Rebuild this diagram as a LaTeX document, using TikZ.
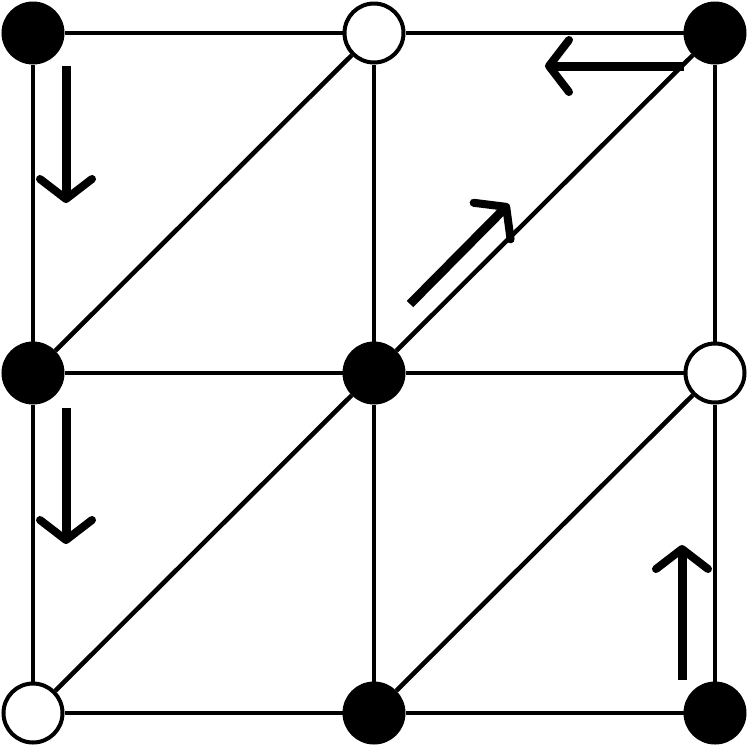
\documentclass[tikz,border=0pt]{standalone}
\usetikzlibrary{arrows.meta}
\begin{document}
\begin{tikzpicture}[x=1pt,y=-1pt,
  vtx/.style={circle,draw=black,line width=4pt,minimum size=59pt,inner sep=0pt},
  full/.style={vtx,fill=black},
  hollow/.style={vtx,fill=white},
  edge/.style={line width=4.5pt},
  flow/.style={line width=9pt,-{Straight Barb[length=20pt,width=52pt,line width=8pt,round]}}]
\useasboundingbox (0,0) rectangle (748,748);
\node[full]   (a1) at (33,33) {};
\node[hollow] (a2) at (374,33) {};
\node[full]   (a3) at (715,33) {};
\node[full]   (b1) at (33,373) {};
\node[full]   (b2) at (374,373) {};
\node[hollow] (b3) at (715,373) {};
\node[hollow] (c1) at (33,713) {};
\node[full]   (c2) at (374,713) {};
\node[full]   (c3) at (715,713) {};
% grid
\draw[edge] (a1) -- (a2); \draw[edge] (a2) -- (a3);
\draw[edge] (b1) -- (b2); \draw[edge] (b2) -- (b3);
\draw[edge] (c1) -- (c2); \draw[edge] (c2) -- (c3);
\draw[edge] (a1) -- (b1); \draw[edge] (b1) -- (c1);
\draw[edge] (a2) -- (b2); \draw[edge] (b2) -- (c2);
\draw[edge] (a3) -- (b3); \draw[edge] (b3) -- (c3);
\draw[edge] (b1) -- (a2); \draw[edge] (b2) -- (a3);
\draw[edge] (c1) -- (b2); \draw[edge] (c2) -- (b3);
% arrows
\coordinate (p1s) at (66,66);  \coordinate (p1e) at (66,203);
\coordinate (p2s) at (66,408); \coordinate (p2e) at (66,544);
\coordinate (p3s) at (410,304);\coordinate (p3e) at (509,204);
\coordinate (p4s) at (684,66); \coordinate (p4e) at (545,66);
\coordinate (p5s) at (682,680);\coordinate (p5e) at (682,545);
\draw[flow] (p1s) -- (p1e);
\draw[flow] (p2s) -- (p2e);
\draw[flow] (p3s) -- (p3e);
\draw[flow] (p4s) -- (p4e);
\draw[flow] (p5s) -- (p5e);
\end{tikzpicture}
\end{document}
